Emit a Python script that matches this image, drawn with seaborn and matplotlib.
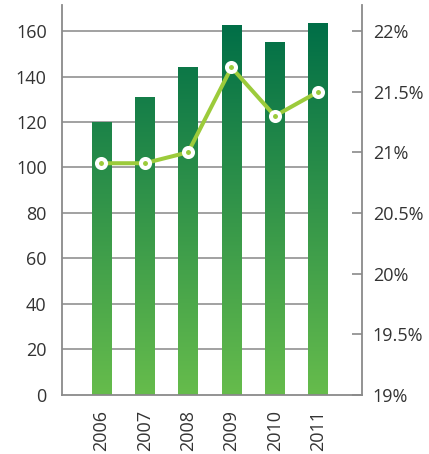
import numpy as np
import pandas as pd
import matplotlib
matplotlib.use("Agg")
import matplotlib.pyplot as plt
from matplotlib.colors import LinearSegmentedColormap
from matplotlib.ticker import FuncFormatter
import seaborn as sns

years = ["2006", "2007", "2008", "2009", "2010", "2011"]
values = [120, 131, 144, 162.5, 155, 163.7]
pct = [20.91, 20.91, 21.0, 21.70, 21.30, 21.50]
left_ticks = [0, 20, 40, 60, 80, 100, 120, 140, 160]
right_ticks = [19, 19.5, 20, 20.5, 21, 21.5, 22]

sns.set_style("white")
plt.rcParams['font.family'] = ['Open Sans', 'DejaVu Sans']

TXT = "#333333"
GRID = "#9a9a9a"
SPINE = "#8a8a8a"
LINE = "#9ccb3b"

df = pd.DataFrame({"year": years, "value": values, "pct": pct})

fig = plt.figure(figsize=(4.29, 4.54), dpi=100)
ax = fig.add_axes([0.1445, 0.1306, 0.6985, 0.8584])

bw = 0.45
sns.barplot(data=df, x="year", y="value", ax=ax, width=bw, color="#2e8b4a",
            saturation=1, zorder=2)

ymax = 171.5
ax.set_ylim(0, ymax)
ax.set_xlim(-0.906, len(years))

# gradient fill in bars
cmap = LinearSegmentedColormap.from_list("g", ["#66bc4c", "#006e47"])
grad = np.linspace(0, 1, 256).reshape(-1, 1)
for p in ax.patches:
    p.set_facecolor("none")
    p.set_edgecolor("none")
    im = ax.imshow(grad, cmap=cmap, origin="lower", aspect="auto",
                   extent=[-1, len(years) + 1, 0, 164], zorder=2, vmin=0, vmax=1)
    im.set_clip_path(p)
ax.set_xlim(-0.906, len(years))
ax.set_ylim(0, ymax)

# grid lines ending at last bar
ax.hlines(left_ticks[1:], xmin=-0.906, xmax=len(years) - 1 + bw / 2,
          colors=GRID, linewidth=1.3, zorder=1)

ax.set_yticks(left_ticks)
ax.set_xlabel("")
ax.set_ylabel("")
ax.tick_params(axis="y", length=0, pad=11, labelsize=13, labelcolor=TXT)
ax.tick_params(axis="x", length=0, pad=11, labelsize=13, labelcolor=TXT,
               labelrotation=90)
for s in ["top", "right"]:
    ax.spines[s].set_visible(False)
for s in ["left", "bottom"]:
    ax.spines[s].set_color(SPINE)
    ax.spines[s].set_linewidth(1.3)

ax2 = ax.twinx()
ax2.plot(df["year"], df["pct"], color=LINE, linewidth=2.9, marker="o",
         markersize=6.5, markerfacecolor=LINE, markeredgecolor="white",
         markeredgewidth=2.9, zorder=5)
ax2.set_ylim(19, 19 + ymax * 3 / 160)
ax2.set_yticks(right_ticks)
ax2.yaxis.set_major_formatter(FuncFormatter(lambda v, _: f"{v:g}%"))
ax2.tick_params(axis="y", direction="in", length=7, width=1.2, color=SPINE,
                pad=8, labelsize=13, labelcolor=TXT)
for s in ["top", "left", "bottom"]:
    ax2.spines[s].set_visible(False)
ax2.spines["right"].set_color(SPINE)
ax2.spines["right"].set_linewidth(1.3)
ax2.set_xlim(-0.906, len(years))

fig.savefig("out.png", dpi=100)
